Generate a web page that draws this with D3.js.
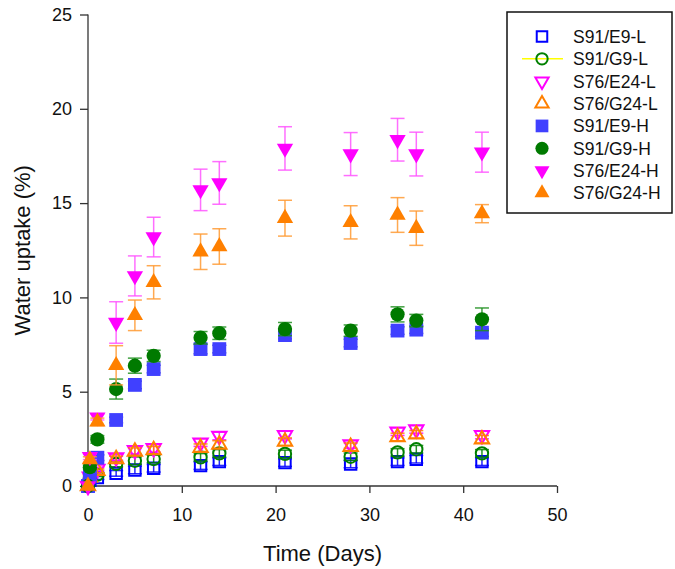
<!DOCTYPE html>
<html>
<head>
<meta charset="utf-8">
<script src="https://cdn.jsdelivr.net/npm/d3@7"></script>
<style>
  body { margin: 0; background: #fff; }
  svg { display: block; font-family: 'Liberation Sans', Arial, sans-serif; }
</style>
</head>
<body>
<div id="chart"></div>
<script>
// Sampling times (days)
var days = [0, 0.2, 1, 3, 5, 7, 12, 14, 21, 28, 33, 35, 42];

// Water uptake (%) per formulation
var e9L  = [0, 0.3, 0.45, 0.67, 0.85, 0.94, 1.08, 1.29, 1.24, 1.17, 1.29, 1.42, 1.29];
var g9L  = [0, 0.4, 0.6, 1.17, 1.34, 1.43, 1.52, 1.73, 1.7, 1.55, 1.78, 1.95, 1.73];
var e24L = [0, 0.5, 0.9, 1.52, 1.9, 2.0, 2.3, 2.65, 2.7, 2.2, 2.88, 3.0, 2.7];
var g24L = [0, 0.45, 0.8, 1.43, 1.82, 1.9, 2.03, 2.2, 2.35, 2.08, 2.6, 2.74, 2.48];
var e9H  = [0, 0.5, 1.5, 3.5, 5.36, 6.2, 7.26, 7.26, 8.0, 7.58, 8.24, 8.29, 8.13];
var g9H  = [0, 1.0, 2.47, 5.14, 6.38, 6.9, 7.86, 8.1, 8.32, 8.24, 9.1, 8.77, 8.84];
var e24H = [0, 1.55, 3.65, 8.67, 11.14, 13.2, 15.7, 16.07, 17.9, 17.6, 18.36, 17.6, 17.7];
var g24H = [0, 1.4, 3.4, 6.4, 9.05, 10.8, 12.42, 12.7, 14.2, 13.98, 14.37, 13.67, 14.44];

// Standard deviations
var e9LErr  = [0, 0.1, 0.1, 0.15, 0.2, 0.2, 0.2, 0.2, 0.2, 0.2, 0.2, 0.2, 0.2];
var g9LErr  = [0, 0.1, 0.1, 0.15, 0.2, 0.2, 0.2, 0.2, 0.2, 0.2, 0.2, 0.2, 0.2];
var e24LErr = [0, 0.1, 0.1, 0.15, 0.2, 0.2, 0.2, 0.2, 0.2, 0.2, 0.2, 0.2, 0.2];
var g24LErr = [0, 0.1, 0.1, 0.15, 0.2, 0.2, 0.2, 0.2, 0.2, 0.2, 0.2, 0.2, 0.2];
var e9HErr  = [0, 0.1, 0.15, 0.15, 0.2, 0.2, 0.25, 0.2, 0.2, 0.2, 0.2, 0.2, 0.2];
var g9HErr  = [0, 0.1, 0.2, 0.53, 0.4, 0.3, 0.33, 0.33, 0.35, 0.3, 0.4, 0.33, 0.6];
var e24HErr = [0, 0.15, 0.15, 1.1, 1.06, 1.05, 1.1, 1.13, 1.15, 1.14, 1.13, 1.16, 1.06];
var g24HErr = [0, 0.15, 0.2, 1.04, 0.81, 0.88, 0.94, 0.94, 0.95, 0.88, 0.92, 0.91, 0.48];

var seriesNames = ['S91/E9-L', 'S91/G9-L', 'S76/E24-L', 'S76/G24-L',
                   'S91/E9-H', 'S91/G9-H', 'S76/E24-H', 'S76/G24-H'];
var xTicks = [0, 10, 20, 30, 40, 50];
var yTicks = [0, 5, 10, 15, 20, 25];

// Marker style per series, same order as the names
var styles = [
    { values: e9L,  errs: e9LErr,  shape: d3.symbolSquare,   size: 130, rot: 0,   fill: 'none',    stroke: '#0000ff', bar: '#0000ff' },
    { values: g9L,  errs: g9LErr,  shape: d3.symbolCircle,   size: 120, rot: 0,   fill: 'none',    stroke: '#008000', bar: '#008000' },
    { values: e24L, errs: e24LErr, shape: d3.symbolTriangle, size: 90,  rot: 180, fill: 'none',    stroke: '#ff00ff', bar: '#ff00ff' },
    { values: g24L, errs: g24LErr, shape: d3.symbolTriangle, size: 90,  rot: 0,   fill: 'none',    stroke: '#ff8000', bar: '#ff8000' },
    { values: e9H,  errs: e9HErr,  shape: d3.symbolSquare,   size: 190, rot: 0,   fill: '#4040ff', stroke: 'none',    bar: '#2a2acc' },
    { values: g9H,  errs: g9HErr,  shape: d3.symbolCircle,   size: 160, rot: 0,   fill: '#007a00', stroke: 'none',    bar: '#1f8f1f' },
    { values: e24H, errs: e24HErr, shape: d3.symbolTriangle, size: 115, rot: 180, fill: '#ff00ff', stroke: 'none',    bar: '#ff55ff' },
    { values: g24H, errs: g24HErr, shape: d3.symbolTriangle, size: 115, rot: 0,   fill: '#ff8000', stroke: 'none',    bar: '#ff9a33' }
];

var width = 675, height = 569;
var svg = d3.select('#chart').append('svg')
    .attr('width', width).attr('height', height);

// Scales: plot frame from the axis positions in the figure
var x = d3.scaleLinear().domain([0, 50]).range([88, 557]);
var y = d3.scaleLinear().domain([0, 25]).range([486, 14.5]);

// Axes
var xAxis = svg.append('g')
    .attr('transform', 'translate(0,' + y(0) + ')')
    .call(d3.axisBottom(x).tickValues(xTicks).tickSize(7).tickPadding(15));
var yAxis = svg.append('g')
    .attr('transform', 'translate(' + x(0) + ',0)')
    .call(d3.axisLeft(y).tickValues(yTicks).tickSize(8).tickPadding(8));

[xAxis, yAxis].forEach(function(ax) {
    ax.select('.domain').remove();
    ax.selectAll('.tick line').attr('stroke', '#333').attr('stroke-width', 1.3);
    ax.selectAll('.tick text').attr('fill', '#111')
        .style('font-size', '18px').style('font-family', "'Liberation Sans', Arial, sans-serif");
});
// Plain axis lines without end caps
svg.append('line').attr('x1', x(0)).attr('x2', x(50)).attr('y1', y(0)).attr('y2', y(0))
    .attr('stroke', '#333').attr('stroke-width', 1.3);
svg.append('line').attr('x1', x(0)).attr('x2', x(0)).attr('y1', y(0)).attr('y2', y(25))
    .attr('stroke', '#333').attr('stroke-width', 1.3);

// Axis titles
svg.append('text')
    .attr('x', (x(0) + x(50)) / 2).attr('y', 561)
    .attr('text-anchor', 'middle')
    .style('font-size', '22px').attr('fill', '#111')
    .text('Time (Days)');
svg.append('text')
    .attr('transform', 'translate(30,' + (y(0) + y(25)) / 2 + ') rotate(-90)')
    .attr('text-anchor', 'middle')
    .style('font-size', '22px').attr('fill', '#111')
    .text('Water uptake (%)');

// Series: error bars then markers
var capHalf = 7;
styles.forEach(function(s, si) {
    var pts = days.map(function(d, i) { return { t: d, v: s.values[i], e: s.errs[i] }; });
    var g = svg.append('g').attr('class', 'series s' + si);

    var eb = g.selectAll('.err').data(pts.filter(function(p) { return p.e > 0; }))
        .enter().append('g').attr('class', 'err')
        .attr('stroke', s.bar).attr('stroke-width', 1.5).attr('stroke-opacity', 0.85);
    eb.append('line')
        .attr('x1', function(p) { return x(p.t); }).attr('x2', function(p) { return x(p.t); })
        .attr('y1', function(p) { return y(p.v + p.e); }).attr('y2', function(p) { return y(p.v - p.e); });
    eb.append('line')
        .attr('x1', function(p) { return x(p.t) - capHalf; }).attr('x2', function(p) { return x(p.t) + capHalf; })
        .attr('y1', function(p) { return y(p.v + p.e); }).attr('y2', function(p) { return y(p.v + p.e); });
    eb.append('line')
        .attr('x1', function(p) { return x(p.t) - capHalf; }).attr('x2', function(p) { return x(p.t) + capHalf; })
        .attr('y1', function(p) { return y(p.v - p.e); }).attr('y2', function(p) { return y(p.v - p.e); });

    g.selectAll('.pt').data(pts)
        .enter().append('path').attr('class', 'pt')
        .attr('d', d3.symbol().type(s.shape).size(s.size))
        .attr('transform', function(p) { return 'translate(' + x(p.t) + ',' + y(p.v) + ') rotate(' + s.rot + ')'; })
        .attr('fill', s.fill)
        .attr('stroke', s.stroke)
        .attr('stroke-width', 2);
});

// Legend
var legend = svg.append('g').attr('class', 'legend');
legend.append('rect')
    .attr('x', 507).attr('y', 12).attr('width', 165).attr('height', 201)
    .attr('fill', '#fff').attr('stroke', '#111').attr('stroke-width', 1.5);
var rowY = d3.scaleLinear().domain([0, 7]).range([36.5, 193]);
var items = legend.selectAll('.item').data(styles)
    .enter().append('g').attr('class', 'item')
    .attr('transform', function(s, i) { return 'translate(0,' + rowY(i) + ')'; });
// Yellow stroke shown behind the S91/G9-L legend symbol
items.filter(function(s, i) { return i === 1; }).append('line')
    .attr('x1', 522).attr('x2', 563).attr('y1', 0).attr('y2', 0)
    .attr('stroke', '#ffff00').attr('stroke-width', 1.5);
items.append('path')
    .attr('d', function(s) { return d3.symbol().type(s.shape).size(s.size * 0.85)(); })
    .attr('transform', function(s) { return 'translate(542,0) rotate(' + s.rot + ')'; })
    .attr('fill', function(s) { return s.fill; })
    .attr('stroke', function(s) { return s.stroke; })
    .attr('stroke-width', 2);
items.append('text')
    .attr('x', 573).attr('dy', '0.36em')
    .style('font-size', '17.5px').attr('fill', '#111')
    .text(function(s, i) { return seriesNames[i]; });
</script>
</body>
</html>
